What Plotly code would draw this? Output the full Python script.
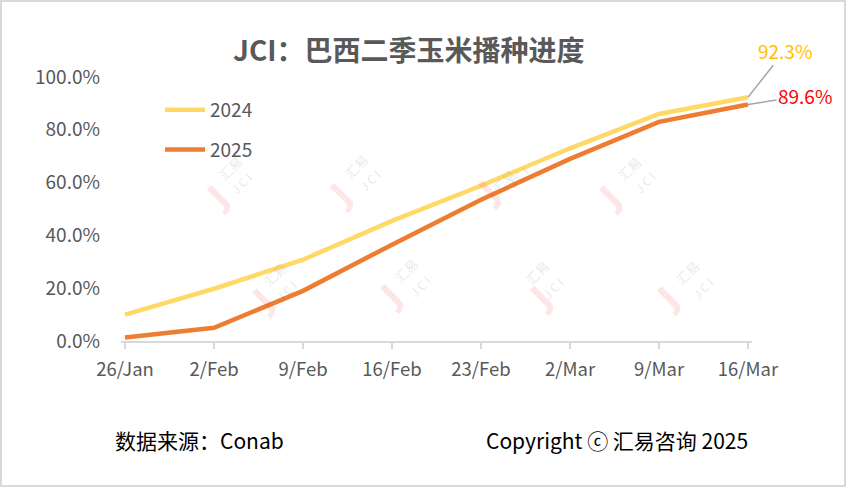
import plotly.graph_objects as go

categories = ["26/Jan", "2/Feb", "9/Feb", "16/Feb", "23/Feb", "2/Mar", "9/Mar", "16/Mar"]
series_2024 = [10.0, 19.8, 30.8, 45.5, 58.8, 73.0, 86.0, 92.3]
series_2025 = [1.3, 5.0, 19.0, 36.5, 53.5, 69.0, 83.0, 89.6]
y_ticks = [0, 20, 40, 60, 80, 100]
y_tick_labels = ["0.0%", "20.0%", "40.0%", "60.0%", "80.0%", "100.0%"]

FONT = "Noto Sans CJK SC"
GREY = "#595959"
W, H = 846, 487
L, R, T, B = 121, 94, 77, 146

x_idx = list(range(len(categories)))

def px_x(p):
    return (p - L) / (W - L - R)

def px_y(p):
    return (H - B - p) / (H - T - B)

fig = go.Figure()

# faint watermarks (drawn first so lines sit on top)
watermarks = [(195, 197), (340, 195), (488, 192), (632, 197),
              (240, 322), (390, 318), (540, 320), (690, 320)]
for wx, wy in watermarks:
    fig.add_annotation(xref="paper", yref="paper", x=px_x(wx), y=px_y(wy),
                       text="<b>J</b>", showarrow=False, textangle=-45,
                       font=dict(family="DejaVu Sans", size=34, color="rgba(240,60,60,0.13)"))
    fig.add_annotation(xref="paper", yref="paper", x=px_x(wx + 16), y=px_y(wy - 29),
                       text="汇易", showarrow=False, textangle=-45,
                       font=dict(family=FONT, size=13, color="rgba(120,120,120,0.18)"))
    fig.add_annotation(xref="paper", yref="paper", x=px_x(wx + 29), y=px_y(wy - 15),
                       text="J C I", showarrow=False, textangle=-45,
                       font=dict(family=FONT, size=12, color="rgba(120,120,120,0.18)"))

fig.add_trace(go.Scatter(x=x_idx, y=series_2024, mode="lines", name="2024",
                         legendgroup="a", hoverinfo="skip",
                         line=dict(color="#FFD966", width=4.5)))
fig.add_trace(go.Scatter(x=x_idx, y=series_2025, mode="lines", name="2025",
                         legendgroup="b", hoverinfo="skip",
                         line=dict(color="#ED7D31", width=4.5)))

# end-point labels with leader lines
fig.add_annotation(x=x_idx[-1], y=series_2024[-1], text=f"{series_2024[-1]:.1f}%",
                   showarrow=True, arrowhead=0, arrowwidth=1.5, arrowcolor="#A6A6A6",
                   ax=37, ay=-47, font=dict(family=FONT, size=19, color="#FFC000"))
fig.add_annotation(x=x_idx[-1], y=series_2025[-1], text=f"{series_2025[-1]:.1f}%",
                   showarrow=True, arrowhead=0, arrowwidth=1.5, arrowcolor="#A6A6A6",
                   ax=57, ay=-9, font=dict(family=FONT, size=19, color="#FF0000"))

# title
fig.add_annotation(xref="paper", yref="paper", x=px_x(409), y=px_y(49),
                   xanchor="center", yanchor="middle",
                   text="<b>JCI：巴西二季玉米播种进度</b>", showarrow=False,
                   font=dict(family=FONT, size=28, color=GREY))
# footer
fig.add_annotation(xref="paper", yref="paper", x=px_x(113), y=px_y(440),
                   xanchor="left", yanchor="middle",
                   text="数据来源：Conab", showarrow=False,
                   font=dict(family=FONT, size=21, color="#000000"))
fig.add_annotation(xref="paper", yref="paper", x=px_x(750), y=px_y(440),
                   xanchor="right", yanchor="middle",
                   text="Copyright ⓒ 汇易咨询 2025", showarrow=False,
                   font=dict(family=FONT, size=21, color="#000000"))

# frame
fig.add_shape(type="rect", xref="paper", yref="paper",
              x0=px_x(1), x1=px_x(W - 1), y0=px_y(H - 1), y1=px_y(1),
              line=dict(color="#D9D9D9", width=2), layer="below")

fig.update_layout(
    width=W, height=H,
    margin=dict(l=L, r=R, t=T, b=B, autoexpand=False),
    paper_bgcolor="white", plot_bgcolor="white",
    font=dict(family=FONT, color=GREY),
    showlegend=True,
    hovermode=False,
    legend=dict(x=px_x(160), y=px_y(91), xanchor="left", yanchor="top",
                font=dict(family=FONT, size=19, color=GREY),
                tracegroupgap=12, itemwidth=40, bgcolor="rgba(0,0,0,0)"),
    xaxis=dict(range=[-0.045, len(categories) - 1 + 0.045], tickmode="array",
               tickvals=x_idx, ticktext=categories, showgrid=False, zeroline=False,
               showline=True, linecolor="#D9D9D9", linewidth=1.5,
               ticks="outside", ticklen=6, tickcolor="#D9D9D9", tickwidth=1.5,
               tickfont=dict(family=FONT, size=18.5, color=GREY), ticklabelstandoff=5),
    yaxis=dict(range=[0, 100], tickmode="array", tickvals=y_ticks, ticktext=y_tick_labels,
               showgrid=False, zeroline=False, showline=False,
               tickfont=dict(family=FONT, size=19, color=GREY), ticklabelstandoff=20),
)

fig.write_html("out.html", config={"displayModeBar": False},
               post_script="document.body.style.margin='0';")
